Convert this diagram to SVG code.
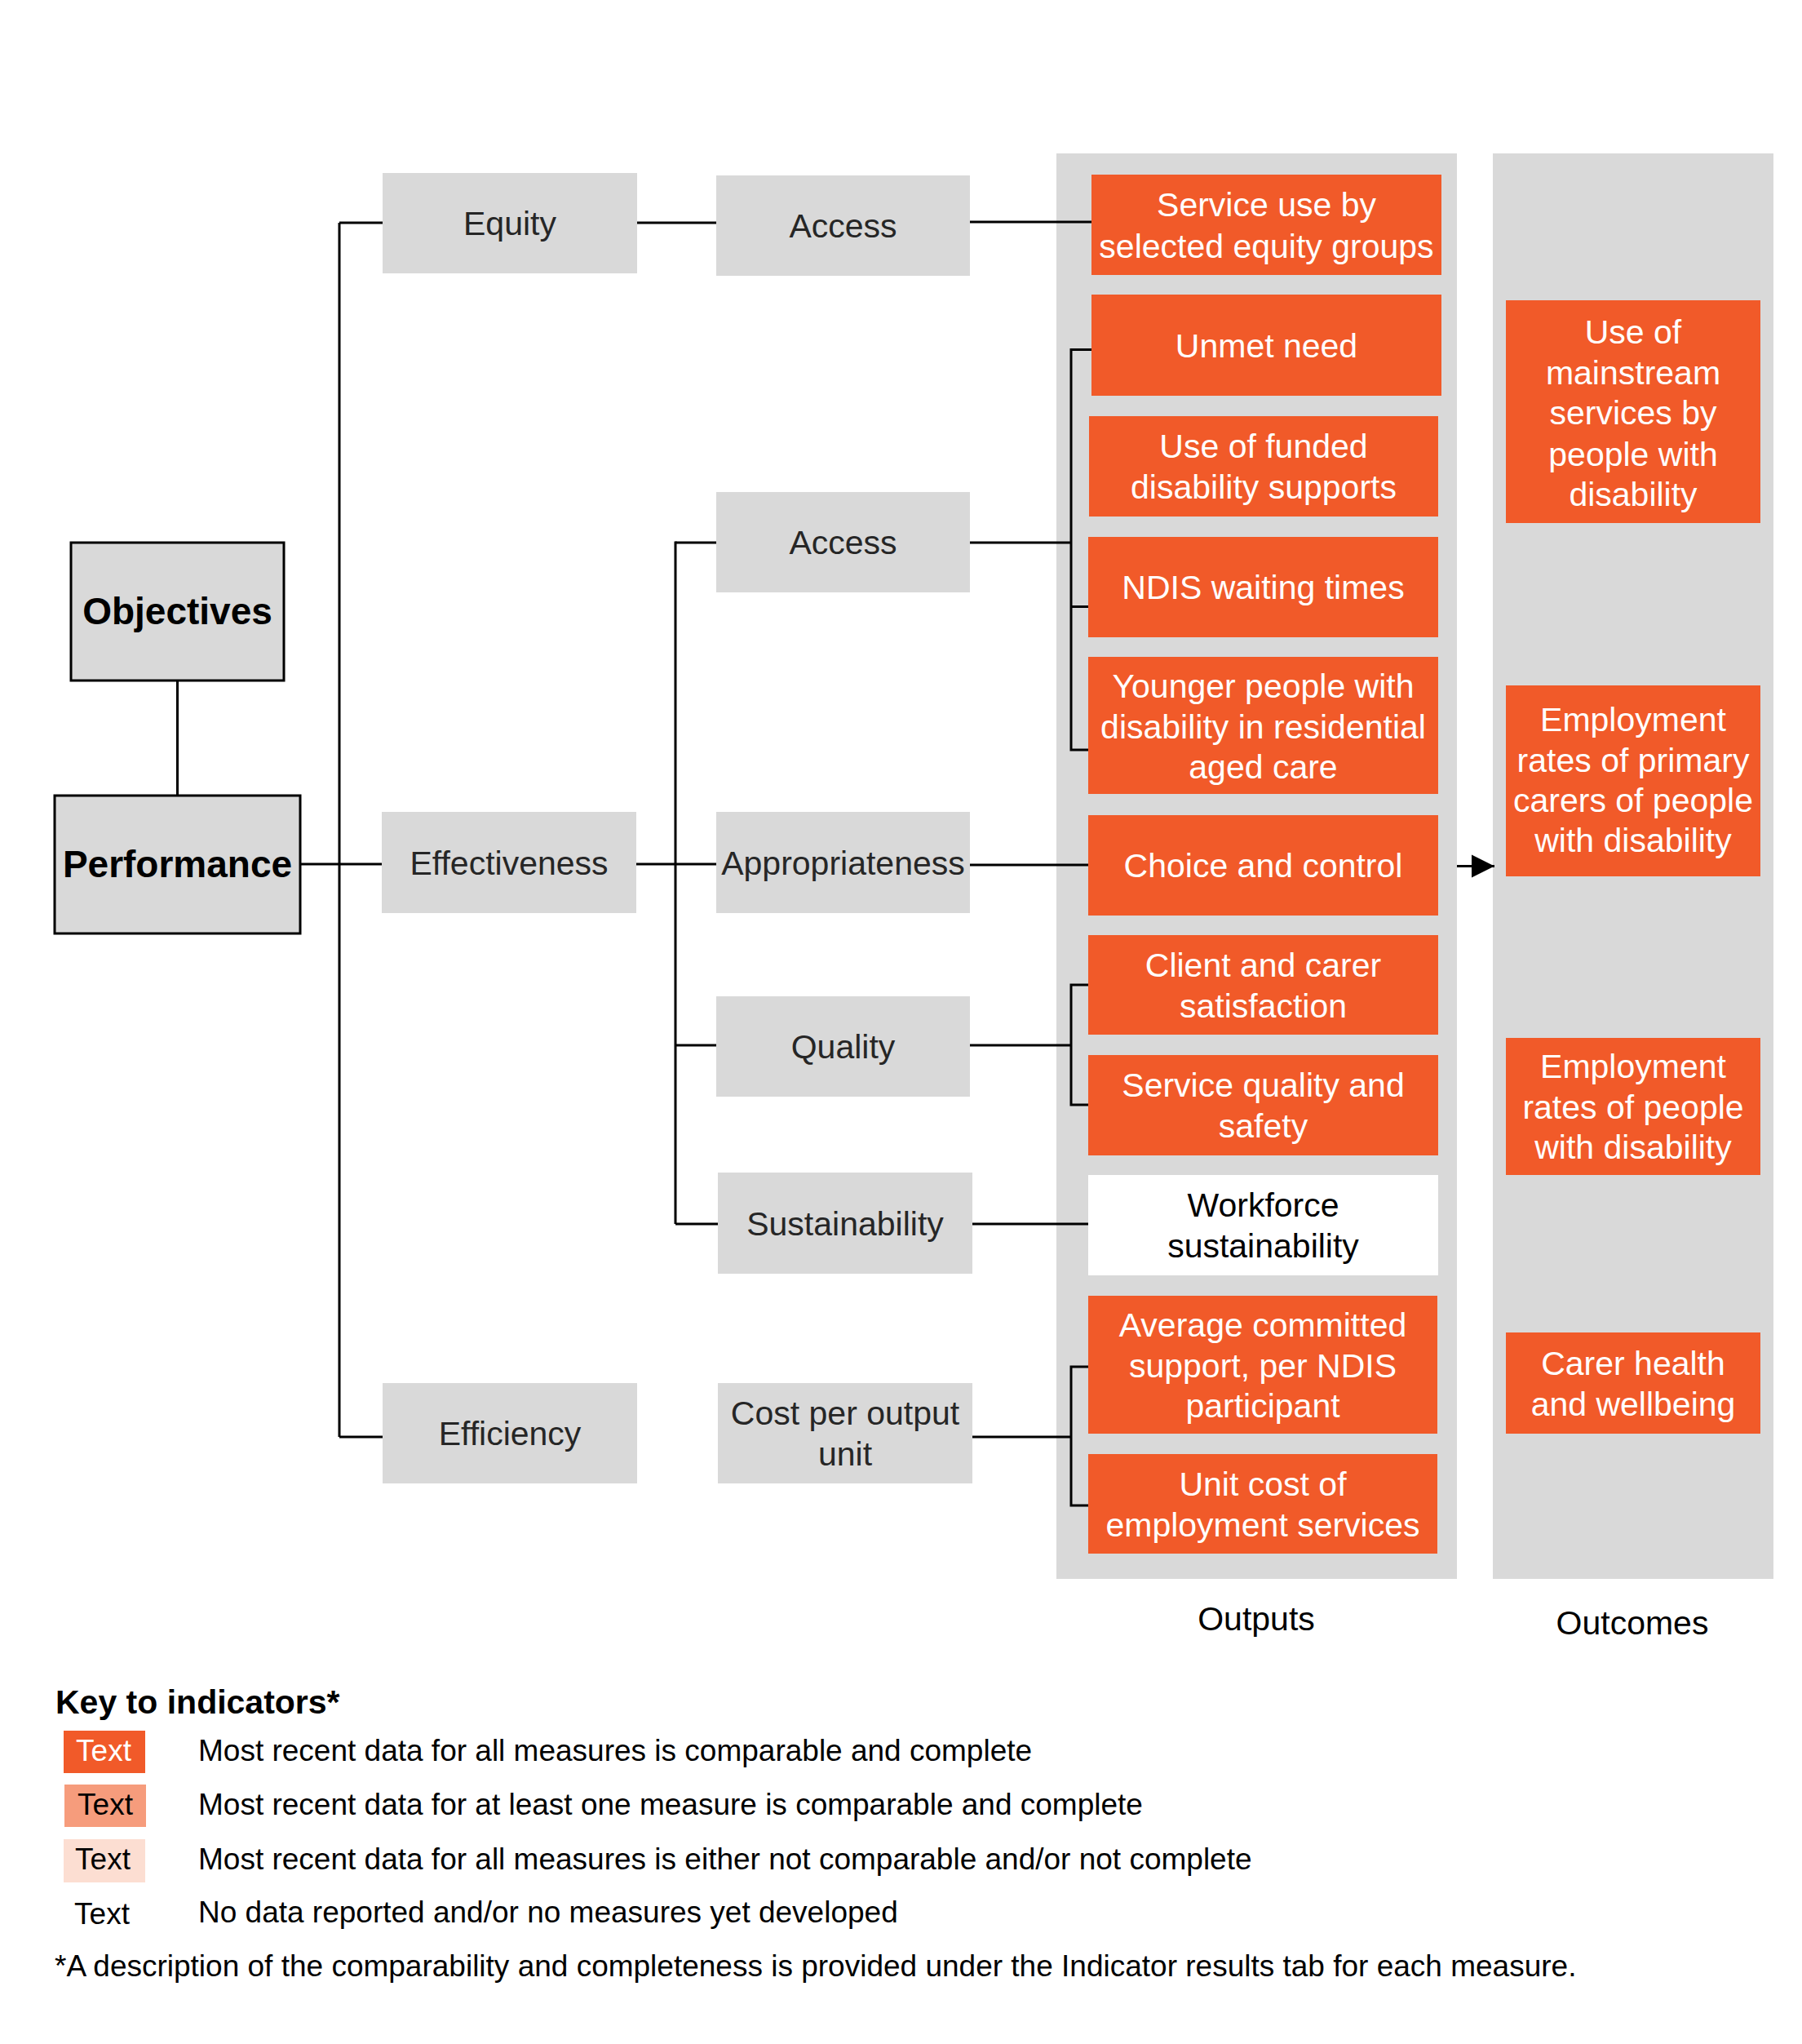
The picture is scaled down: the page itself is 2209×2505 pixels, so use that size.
<svg xmlns="http://www.w3.org/2000/svg" width="2209" height="2505" viewBox="0 0 2209 2505">
<style>
.bg{fill:#ffffff}
.g{fill:#D9D9D9}
.gk{fill:#D9D9D9;stroke:#000;stroke-width:3}
.o{fill:#F15A29}
.w{fill:#ffffff}
.col{fill:#D9D9D9}
text{font-family:"Liberation Sans",Arial,sans-serif}
.gt{font-size:41px;fill:#262626;text-anchor:middle}
.bt{font-size:46px;font-weight:bold;fill:#000;text-anchor:middle}
.ot{font-size:41px;fill:#ffffff;text-anchor:middle}
.kt{font-size:41px;fill:#000;text-anchor:middle}
.lab{font-size:41px;fill:#000;text-anchor:middle}
.lt{font-size:37px;fill:#000}
.lh{font-size:41px;font-weight:bold;fill:#000}
.ln{stroke:#000;stroke-width:3;fill:none}
</style>
<defs>
<marker id="arr" viewBox="0 0 10 10" refX="10" refY="5" markerWidth="9.5" markerHeight="9.5" markerUnits="strokeWidth" orient="auto">
<path d="M0,0 L10,5 L0,10 Z" fill="#000"/>
</marker>
</defs>
<rect class="bg" x="0" y="0" width="2209" height="2505"/>

<g id="columns">
<rect id="outputs-col" class="col" x="1295" y="188" width="491" height="1747"/>
<rect id="outcomes-col" class="col" x="1830" y="188" width="344" height="1747"/>
<text class="lab" x="1540" y="1998">Outputs</text>
<text class="lab" x="2001" y="2003">Outcomes</text>
</g>

<g id="connectors">
<path class="ln" d="M217.5,834 V975"/>
<path class="ln" d="M368,1059 H468"/>
<path class="ln" d="M416,273 V1761"/>
<path class="ln" d="M416,273 H469"/>
<path class="ln" d="M416,1761 H469"/>
<path class="ln" d="M781,273 H878"/>
<path class="ln" d="M1189,272 H1338"/>
<path class="ln" d="M780,1059 H878"/>
<path class="ln" d="M828,663.5 V1500"/>
<path class="ln" d="M828,665 H878"/>
<path class="ln" d="M828,1281 H878"/>
<path class="ln" d="M828,1500 H880"/>
<path class="ln" d="M1189,665 H1313"/>
<path class="ln" d="M1338,428.5 H1313 V919 H1334"/>
<path class="ln" d="M1313,743.5 H1334"/>
<path class="ln" d="M1189,1060 H1334"/>
<path class="ln" d="M1189,1281 H1313"/>
<path class="ln" d="M1334,1207 H1313 V1354 H1334"/>
<path class="ln" d="M1192,1500 H1334"/>
<path class="ln" d="M1192,1761 H1313"/>
<path class="ln" d="M1334,1675 H1313 V1845 H1334"/>
<path class="ln" d="M1786,1061.5 H1832" marker-end="url(#arr)"/>
</g>

<g id="objectives"><rect class="gk" x="87" y="665" width="261" height="169"/><text class="bt" x="217.5" y="765">Objectives</text></g>
<g id="performance"><rect class="gk" x="67" y="975" width="301" height="169"/><text class="bt" x="217.5" y="1075">Performance</text></g>
<g id="equity"><rect class="g" x="469" y="212" width="312" height="123"/><text class="gt" x="625" y="288">Equity</text></g>
<g id="access-equity"><rect class="g" x="878" y="215" width="311" height="123"/><text class="gt" x="1033.5" y="291">Access</text></g>
<g id="effectiveness"><rect class="g" x="468" y="995" width="312" height="124"/><text class="gt" x="624" y="1072">Effectiveness</text></g>
<g id="access-eff"><rect class="g" x="878" y="603" width="311" height="123"/><text class="gt" x="1033.5" y="679">Access</text></g>
<g id="appropriateness"><rect class="g" x="878" y="995" width="311" height="124"/><text class="gt" x="1033.5" y="1072">Appropriateness</text></g>
<g id="quality"><rect class="g" x="878" y="1221" width="311" height="123"/><text class="gt" x="1033.5" y="1297">Quality</text></g>
<g id="sustainability"><rect class="g" x="880" y="1437" width="312" height="124"/><text class="gt" x="1036" y="1514">Sustainability</text></g>
<g id="efficiency"><rect class="g" x="469" y="1695" width="312" height="123"/><text class="gt" x="625" y="1771">Efficiency</text></g>
<g id="cost-per-output"><rect class="g" x="880" y="1695" width="312" height="123"/><text class="gt" x="1036" y="1746">Cost per output</text><text class="gt" x="1036" y="1796">unit</text></g>

<g id="service-use"><rect class="o" x="1338" y="214" width="429" height="123"/><text class="ot" x="1552.5" y="265">Service use by</text><text class="ot" x="1552.5" y="316">selected equity groups</text></g>
<g id="unmet-need"><rect class="o" x="1338" y="361" width="429" height="124"/><text class="ot" x="1552.5" y="438">Unmet need</text></g>
<g id="use-funded"><rect class="o" x="1335" y="510" width="428" height="123"/><text class="ot" x="1549" y="561">Use of funded</text><text class="ot" x="1549" y="611">disability supports</text></g>
<g id="ndis-waiting"><rect class="o" x="1334" y="658" width="429" height="123"/><text class="ot" x="1548.5" y="734">NDIS waiting times</text></g>
<g id="younger-people"><rect class="o" x="1334" y="805" width="429" height="168"/><text class="ot" x="1548.5" y="855">Younger people with</text><text class="ot" x="1548.5" y="905">disability in residential</text><text class="ot" x="1548.5" y="954">aged care</text></g>
<g id="choice-control"><rect class="o" x="1334" y="999" width="429" height="123"/><text class="ot" x="1548.5" y="1075">Choice and control</text></g>
<g id="client-carer"><rect class="o" x="1334" y="1146" width="429" height="122"/><text class="ot" x="1548.5" y="1197">Client and carer</text><text class="ot" x="1548.5" y="1247">satisfaction</text></g>
<g id="service-quality"><rect class="o" x="1334" y="1293" width="429" height="123"/><text class="ot" x="1548.5" y="1344">Service quality and</text><text class="ot" x="1548.5" y="1394">safety</text></g>
<g id="workforce"><rect class="w" x="1334" y="1440" width="429" height="123"/><text class="kt" x="1548.5" y="1491">Workforce</text><text class="kt" x="1548.5" y="1541">sustainability</text></g>
<g id="average-committed"><rect class="o" x="1334" y="1588" width="428" height="169"/><text class="ot" x="1548" y="1638">Average committed</text><text class="ot" x="1548" y="1688">support, per NDIS</text><text class="ot" x="1548" y="1737">participant</text></g>
<g id="unit-cost"><rect class="o" x="1334" y="1782" width="428" height="122"/><text class="ot" x="1548" y="1833">Unit cost of</text><text class="ot" x="1548" y="1883">employment services</text></g>

<g id="use-mainstream"><rect class="o" x="1846" y="368" width="312" height="273"/><text class="ot" x="2002" y="421">Use of</text><text class="ot" x="2002" y="471">mainstream</text><text class="ot" x="2002" y="520">services by</text><text class="ot" x="2002" y="571">people with</text><text class="ot" x="2002" y="620">disability</text></g>
<g id="employment-carers"><rect class="o" x="1846" y="840" width="312" height="234"/><text class="ot" x="2002" y="896">Employment</text><text class="ot" x="2002" y="946">rates of primary</text><text class="ot" x="2002" y="995">carers of people</text><text class="ot" x="2002" y="1044">with disability</text></g>
<g id="employment-people"><rect class="o" x="1846" y="1272" width="312" height="168"/><text class="ot" x="2002" y="1321">Employment</text><text class="ot" x="2002" y="1371">rates of people</text><text class="ot" x="2002" y="1420">with disability</text></g>
<g id="carer-health"><rect class="o" x="1846" y="1633" width="312" height="124"/><text class="ot" x="2002" y="1685">Carer health</text><text class="ot" x="2002" y="1735">and wellbeing</text></g>

<g id="legend">
<text class="lh" x="68" y="2100">Key to indicators*</text>
<rect x="78" y="2121" width="100" height="52" fill="#F15A29"/>
<text class="lt" x="127" y="2158" text-anchor="middle" style="fill:#ffffff">Text</text>
<text class="lt" x="243" y="2158">Most recent data for all measures is comparable and complete</text>
<rect x="79" y="2187" width="100" height="52" fill="#F69C7C"/>
<text class="lt" x="129" y="2224" text-anchor="middle">Text</text>
<text class="lt" x="243" y="2224">Most recent data for at least one measure is comparable and complete</text>
<rect x="78" y="2254" width="100" height="53" fill="#FCDED2"/>
<text class="lt" x="126" y="2291" text-anchor="middle">Text</text>
<text class="lt" x="243" y="2291">Most recent data for all measures is either not comparable and/or not complete</text>
<text class="lt" x="125" y="2358" text-anchor="middle">Text</text>
<text class="lt" x="243" y="2356">No data reported and/or no measures yet developed</text>
<text class="lt" x="67" y="2422">*A description of the comparability and completeness is provided under the Indicator results tab for each measure.</text>
</g>
</svg>
